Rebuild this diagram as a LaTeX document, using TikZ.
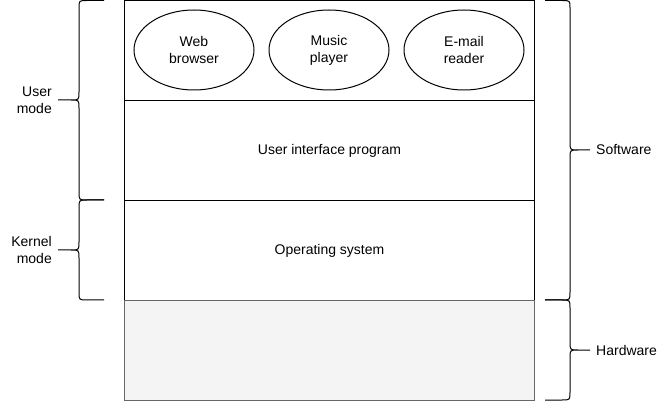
\documentclass[tikz,border=0pt]{standalone}
\usepackage{fontspec}
\setmainfont{Liberation Sans}
\usetikzlibrary{shapes.geometric}
\begin{document}
\begin{tikzpicture}[x=1pt,y=-1pt,
  txt/.style={font=\fontsize{14pt}{17pt}\selectfont},
  layer/.style={txt,draw=black,line width=1pt,minimum width=410pt,minimum height=100pt,inner sep=0pt,anchor=north west},
  app/.style={txt,draw=black,line width=1pt,ellipse,minimum width=120pt,minimum height=80pt,inner sep=0pt,align=center},
  lbl/.style={txt,inner sep=0pt,align=right},
  brace/.style={draw=black,line width=1pt}]
\useasboundingbox (0,0) rectangle (657,401);
\node[layer] (apps) at (124,0.5) {};
\node[layer] (ui) at (124,100) {User interface program};
\node[layer] (os) at (124,200) {Operating system};
\node[layer,draw=black!60,fill=black!4.5] (hw) at (124,300) {};
\node[app] (web) at (194,50) {Web\\browser};
\node[app] (music) at (329,50) {Music\\player};
\node[app] (mail) at (464,50) {E-mail\\reader};
% left braces
\draw[brace] (104,0.5) -- (87,0.5) .. controls (79,0.5) .. (79,8) -- (79,92) .. controls (79,100) .. (71,100) -- (58,100)
  (71,100) .. controls (79,100) .. (79,108) -- (79,192) .. controls (79,200) .. (87,200) -- (104,200);
\draw[brace] (104,200) -- (87,200) .. controls (79,200) .. (79,208) -- (79,242) .. controls (79,250) .. (71,250) -- (58,250)
  (71,250) .. controls (79,250) .. (79,258) -- (79,292) .. controls (79,300) .. (87,300) -- (104,300);
% right braces
\draw[brace] (545,0.5) -- (562,0.5) .. controls (570,0.5) .. (570,8) -- (570,142) .. controls (570,150) .. (578,150) -- (590,150)
  (578,150) .. controls (570,150) .. (570,158) -- (570,292) .. controls (570,300) .. (562,300) -- (545,300);
\draw[brace] (545,300) -- (562,300) .. controls (570,300) .. (570,308) -- (570,342) .. controls (570,350) .. (578,350) -- (590,350)
  (578,350) .. controls (570,350) .. (570,358) -- (570,392) .. controls (570,400) .. (562,400) -- (545,400);
\node[lbl,anchor=east] (user) at (52,100) {User\\mode};
\node[lbl,anchor=east] (kernel) at (52,250) {Kernel\\mode};
\node[lbl,anchor=west,align=left] (sw) at (596,150) {Software};
\node[lbl,anchor=west,align=left] (hwl) at (596,350) {Hardware};
\end{tikzpicture}
\end{document}
